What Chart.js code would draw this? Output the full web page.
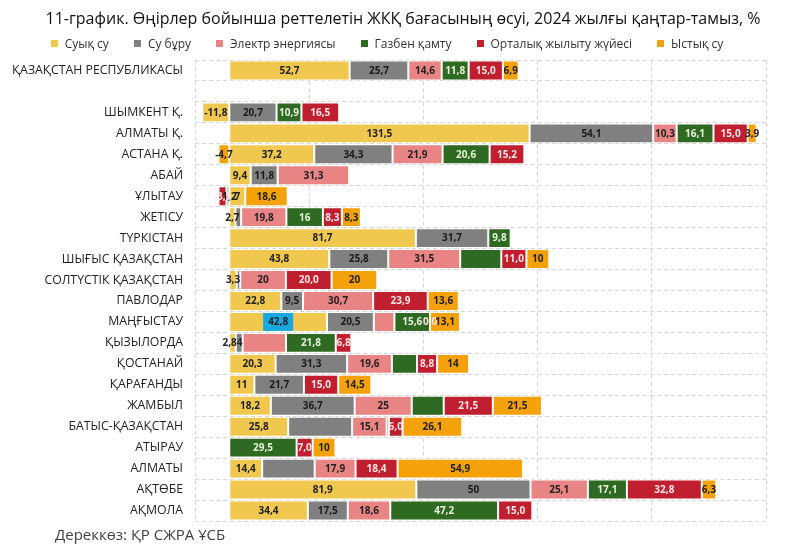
<!DOCTYPE html>
<html>
<head>
<meta charset="utf-8">
<script src="https://cdn.jsdelivr.net/npm/chart.js@4"></script>
<style>
  body { margin: 0; background: #fff; font-family: 'Open Sans', sans-serif; }
  #wrap { position: relative; width: 800px; height: 546px; }
  #title { position: absolute; left: 0; width: 806px; top: 7px; text-align: center; font-size: 16px; line-height: 22px; color: #111; }
  #legend { position: absolute; left: 0; width: 774px; top: 35px; display: flex; justify-content: center; gap: 25px; font-size: 12px; color: #333; }
  #legend span.box { display: inline-block; width: 7px; height: 7px; margin-right: 7px; vertical-align: 1px; }
  #source { position: absolute; left: 55px; top: 524px; font-size: 15px; color: #404040; }
</style>
</head>
<body>
<div id="wrap">
  <canvas id="chart" width="800" height="546"></canvas>
  <div id="title">11-график. Өңірлер бойынша реттелетін ЖКҚ бағасының өсуі, 2024 жылғы қаңтар-тамыз, %</div>
  <div id="legend"></div>
  <div id="source">Дереккөз: ҚР СЖРА ҰСБ</div>
</div>
<script>
const regions = [
    'ҚАЗАҚСТАН РЕСПУБЛИКАСЫ', '', 'ШЫМКЕНТ Қ.', 'АЛМАТЫ Қ.', 'АСТАНА Қ.', 'АБАЙ',
    'ҰЛЫТАУ', 'ЖЕТІСУ', 'ТҮРКІСТАН', 'ШЫҒЫС ҚАЗАҚСТАН', 'СОЛТҮСТІК ҚАЗАҚСТАН',
    'ПАВЛОДАР', 'МАҢҒЫСТАУ', 'ҚЫЗЫЛОРДА', 'ҚОСТАНАЙ', 'ҚАРАҒАНДЫ', 'ЖАМБЫЛ',
    'БАТЫС-ҚАЗАҚСТАН', 'АТЫРАУ', 'АЛМАТЫ', 'АҚТӨБЕ', 'АҚМОЛА'
];

const seriesNames = ['Суық су', 'Су бұру', 'Электр энергиясы', 'Газбен қамту', 'Орталық жылыту жүйесі', 'Ыстық су'];

const coldWater = [52.7, null, -11.8, 131.5, 37.2, 9.4, 7, 2.7, 81.7, 43.8, 3.3, 22.8, 42.8, 2.84, 20.3, 11, 18.2, 25.8, null, 14.4, 81.9, 34.4];
const sewerage  = [25.7, null, 20.7, 54.1, 34.3, 11.8, -1.2, 2.5, 31.7, 25.8, 1.5, 9.5, 20.5, 3, 31.3, 21.7, 36.7, 28, null, 23, 50, 17.5];
const power     = [14.6, null, null, 10.3, 21.9, 31.3, null, 19.8, null, 31.5, 20, 30.7, 9, 19, 19.6, null, 25, 15.1, null, 17.9, 25.1, 18.6];
const gas       = [11.8, null, 10.9, 16.1, 20.6, null, null, 16, 9.8, 18, null, null, 15.6, 21.8, 11, null, 14, 1, 29.5, null, 17.1, 47.2];
const heating   = [15.0, null, 16.5, 15.0, 15.2, null, -3.5, 8.3, null, 11.0, 20.0, 23.9, 0, 6.8, 8.8, 15.0, 21.5, 6.0, 7.0, 18.4, 32.8, 15.0];
const hotWater  = [6.9, null, null, 3.9, -4.7, null, 18.6, 8.3, null, 10, 20, 13.6, 13.1, null, 14, 14.5, 21.5, 26.1, 10, 54.9, 6.3, null];

const gridValues = [-15, 35, 85, 135, 185, 235];

// segments drawn without a value label: [series, row]
const unlabeled = [[1, 7], [1, 10], [1, 13], [2, 12], [2, 13], [3, 9], [3, 14], [3, 16], [1, 17], [3, 17], [1, 19]];
// label with a blue box (Маңғыстау, cold water)
const boxed = [[0, 12]];

const colors = ['#f0c850', '#808080', '#e98484', '#2f6a22', '#c01f30', '#f5a10a'];
const labelColors = ['#222', '#1a1a1a', '#222', '#e6f2dc', '#ffe4e4', '#222'];

function fmt(v, ds) {
    if (ds === 4) return v.toFixed(1).replace('.', ',');
    return String(v).replace('.', ',');
}

// html legend
const legendEl = document.getElementById('legend');
seriesNames.forEach((name, i) => {
    const item = document.createElement('div');
    item.innerHTML = '<span class="box" style="background:' + colors[i] + '"></span>' + name;
    legendEl.appendChild(item);
});

const valueLabels = {
    id: 'valueLabels',
    afterDatasetsDraw(chart) {
        const ctx = chart.ctx;
        ctx.save();
        ctx.font = 'bold 10px "Open Sans", sans-serif';
        ctx.textAlign = 'center';
        ctx.textBaseline = 'middle';
        chart.data.datasets.forEach((ds, di) => {
            const meta = chart.getDatasetMeta(di);
            meta.data.forEach((bar, i) => {
                const v = ds.data[i];
                if (v === null) return;
                if (unlabeled.some(p => p[0] === di && p[1] === i)) return;
                const cx = (bar.x + bar.base) / 2;
                const text = fmt(v, di);
                if (boxed.some(p => p[0] === di && p[1] === i)) {
                    const w = ctx.measureText(text).width + 10;
                    ctx.fillStyle = '#1aa7e0';
                    ctx.fillRect(cx - w / 2, bar.y - 9, w, 18);
                }
                ctx.fillStyle = labelColors[di];
                ctx.fillText(text, cx, bar.y + 0.5);
            });
        });
        ctx.restore();
    }
};

const seriesData = [coldWater, sewerage, power, gas, heating, hotWater];

new Chart(document.getElementById('chart'), {
    type: 'bar',
    data: {
        labels: regions,
        datasets: seriesData.map((d, i) => ({
            label: seriesNames[i],
            data: d,
            backgroundColor: colors[i],
            borderColor: '#ffffff',
            borderWidth: 1,
            borderSkipped: false,
            barPercentage: 0.95,
            categoryPercentage: 1
        }))
    },
    options: {
        indexAxis: 'y',
        responsive: false,
        animation: false,
        layout: { padding: { top: 60, right: 34, bottom: 25 } },
        scales: {
            x: {
                stacked: true,
                min: -15,
                max: 235,
                afterBuildTicks: scale => { scale.ticks = gridValues.map(v => ({ value: v })); },
                ticks: { display: false },
                grid: { color: '#d6d6d6', lineWidth: 1, drawTicks: false },
                border: { display: false, dash: [4, 3] }
            },
            y: {
                stacked: true,
                afterFit: scale => { scale.width = 195; },
                ticks: { color: '#222', font: { family: 'Open Sans', size: 12.3 }, padding: 12, autoSkip: false },
                grid: { color: '#d6d6d6', drawTicks: false, offset: true },
                border: { display: false, dash: [4, 3] }
            }
        },
        plugins: {
            legend: { display: false },
            tooltip: { enabled: false }
        }
    },
    plugins: [valueLabels]
});
</script>
</body>
</html>
